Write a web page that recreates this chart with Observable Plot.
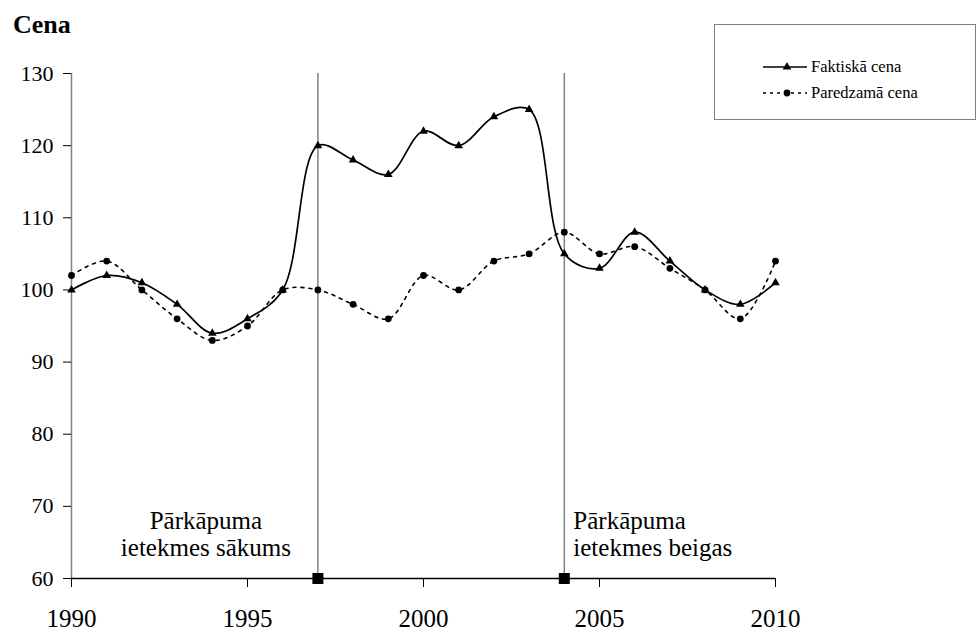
<!DOCTYPE html>
<html><head><meta charset="utf-8">
<script src="https://cdn.jsdelivr.net/npm/d3@7"></script>
<script src="https://cdn.jsdelivr.net/npm/@observablehq/plot@0.6"></script>
<style>
body{margin:0;background:#fff;}
#wrap{position:relative;width:977px;height:635px;font-family:"Liberation Serif","Times New Roman",Times,"DejaVu Serif",serif;color:#000;}
#title{position:absolute;left:13px;top:12px;font-weight:bold;font-size:26px;line-height:26px;}
#legend{position:absolute;left:714px;top:24px;width:262px;height:96px;border:1.5px solid #808080;box-sizing:border-box;background:#fff;}
#chart svg{display:block;}
#wrap svg text{font-family:"Liberation Serif","Times New Roman",Times,"DejaVu Serif",serif;}
</style></head><body>
<div id="wrap"><div id="chart"></div><div id="title">Cena</div><div id="legend"></div></div>
<script>
const years = [1990,1991,1992,1993,1994,1995,1996,1997,1998,1999,2000,2001,2002,2003,2004,2005,2006,2007,2008,2009,2010];
const actual = [100,102,101,98,94,96,100,120,118,116,122,120,124,125,105,103,108,104,100,98,101];
const expected = [102,104,100,96,93,95,100,100,98,96,102,100,104,105,108,105,106,103,100,96,104];
const yTicks = [60,70,80,90,100,110,120,130];
const xTicks = [1990,1995,2000,2005,2010];
const eventYears = [1997,2004];
const eventLabels = ["Pārkāpuma\nietekmes sākums","Pārkāpuma\nietekmes beigas"];
const seriesNames = ["Faktiskā cena","Paredzamā cena"];

const data = years.map((y,i)=>({year:y, actual:actual[i], expected:expected[i]}));
const events = eventYears.map((y,i)=>({year:y, label:eventLabels[i]}));
const yMin = yTicks[0], yMax = yTicks[yTicks.length-1];

const chart = Plot.plot({
  width:977, height:635,
  marginLeft:71, marginRight:202, marginTop:73, marginBottom:57,
  x:{domain:[xTicks[0], xTicks[xTicks.length-1]]},
  y:{domain:[yMin, yMax]},
  style:{color:"#000", background:"transparent", overflow:"visible"},
  marks:[
    Plot.ruleX([xTicks[0]], {y1:yMin, y2:yMax, stroke:"#808080", strokeWidth:1.5}),
    Plot.ruleX(eventYears, {y1:yMin, y2:yMax, stroke:"#808080", strokeWidth:1.5}),
    Plot.axisY({ticks:yTicks, tickSize:8, tickPadding:10, fontSize:22, label:null, tickFormat:d=>String(d), stroke:"#000"}),
    Plot.axisX({ticks:xTicks, tickSize:9, tickPadding:22, fontSize:25, label:null, tickFormat:d=>String(d), stroke:"#000"}),
    Plot.ruleY([yMin], {stroke:"#000", strokeWidth:1.5}),
    Plot.line(data, {x:"year", y:"expected", curve:"catmull-rom", stroke:"#000", strokeWidth:1.6, strokeDasharray:"3,5"}),
    Plot.line(data, {x:"year", y:"actual", curve:"catmull-rom", stroke:"#000", strokeWidth:1.7}),
    Plot.dot(data, {x:"year", y:"expected", r:3.4, fill:"#000", stroke:null, symbol:"circle"}),
    Plot.dot(data, {x:"year", y:"actual", r:3.2, fill:"#000", stroke:null, symbol:"triangle"}),
    Plot.dot(eventYears, {x:d=>d, y:()=>yMin, symbol:"square", r:6.2, fill:"#000", stroke:null}),
    Plot.text([events[0]], {x:"year", y:()=>yMin, text:"label", textAnchor:"middle", dx:-112, dy:-23, lineAnchor:"bottom", lineHeight:1.05, fontSize:25}),
    Plot.text([events[1]], {x:"year", y:()=>yMin, text:"label", textAnchor:"start", dx:9, dy:-23, lineAnchor:"bottom", lineHeight:1.05, fontSize:25})
  ]
});
document.getElementById("chart").appendChild(chart);

// legend
const lg = d3.select("#legend").append("svg").attr("width",259).attr("height",93).style("display","block");
const rows = [
  {name:seriesNames[0], dash:null, sym:d3.symbolTriangle, size:32},
  {name:seriesNames[1], dash:"3,4", sym:d3.symbolCircle, size:36}
];
rows.forEach((r,i)=>{
  const y = 42 + i*26;
  lg.append("line").attr("x1",48).attr("x2",92).attr("y1",y).attr("y2",y)
    .attr("stroke","#000").attr("stroke-width",1.5).attr("stroke-dasharray",r.dash);
  lg.append("path").attr("d",d3.symbol(r.sym,r.size)()).attr("transform",`translate(72,${y})`).attr("fill","#000");
  lg.append("text").attr("x",96).attr("y",y).attr("dy","0.32em").attr("font-size",16.5).text(r.name);
});
</script>
</body></html>
